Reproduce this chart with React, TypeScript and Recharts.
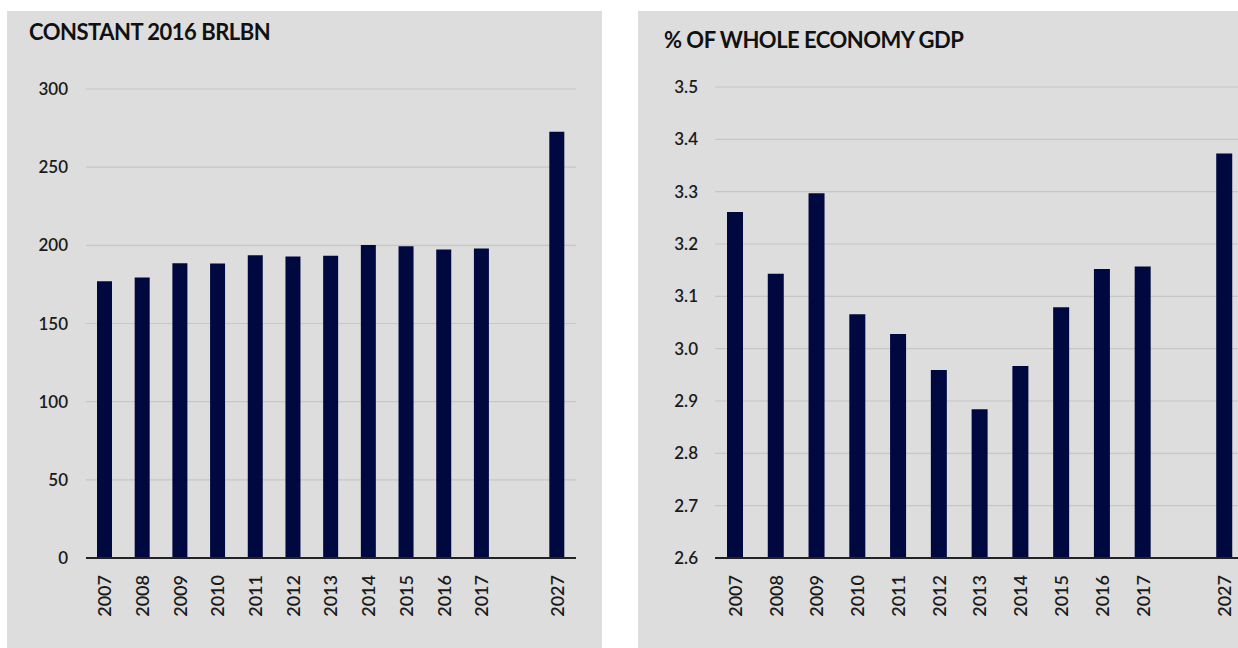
import { BarChart, Bar, XAxis, YAxis, CartesianGrid, ReferenceLine } from 'recharts';

// categories (blank slot between 2017 and 2027)
const years = ['2007', '2008', '2009', '2010', '2011', '2012', '2013', '2014', '2015', '2016', '2017', '', '2027'];

// constant 2016 BRL bn
const spendBrl = [177, 179.5, 188.5, 188.3, 193.6, 192.8, 193.4, 200.2, 199.4, 197.3, 197.9, null, 272.6];

// % of whole economy GDP
const shareGdp = [3.261, 3.143, 3.297, 3.066, 3.028, 2.959, 2.884, 2.967, 3.079, 3.152, 3.157, null, 3.373];

const leftTicks = [0, 50, 100, 150, 200, 250, 300];
const rightTicks = [2.6, 2.7, 2.8, 2.9, 3.0, 3.1, 3.2, 3.3, 3.4, 3.5];

const leftData = years.map((year, i) => ({ year, value: spendBrl[i] }));
const rightData = years.map((year, i) => ({ year, value: shareGdp[i] }));

const FONT = 'Lato, "Open Sans", sans-serif';
const BAR = '#000840';
const BG = '#dddddd';

const YearTick = (props: any) => {
  const { x, y, payload } = props;
  return (
    <g transform={`translate(${x},${y})`}>
      <text
        transform="rotate(-90)"
        textAnchor="end"
        dy="0.36em"
        fontFamily={FONT}
        fontSize={18}
        fontWeight={600}
        fill="#1a1a1a"
      >
        {payload.value}
      </text>
    </g>
  );
};

const titleStyle: React.CSSProperties = {
  position: 'absolute',
  fontFamily: FONT,
  fontWeight: 700,
  fontSize: 22,
  color: '#111',
  letterSpacing: -0.5,
  whiteSpace: 'nowrap',
};

const yTickStyle = { fontFamily: FONT, fontSize: 17, fontWeight: 600, fill: '#1a1a1a' };

export default function App() {
  return (
    <div style={{ position: 'fixed', left: 0, top: 0, width: 1238, height: 648, overflow: 'hidden', background: '#fff' }}>
      {/* left panel */}
      <div style={{ position: 'absolute', left: 7, top: 11, width: 595, height: 637, background: BG }}>
        <div style={{ ...titleStyle, left: 22, top: 7 }}>CONSTANT 2016 BRLBN</div>
        <BarChart
          width={595}
          height={637}
          data={leftData}
          margin={{ top: 78, right: 26, left: 19, bottom: 10 }}
          barCategoryGap={0}
        >
          <CartesianGrid vertical={false} stroke="#c6c6c6" strokeWidth={1.2} />
          <XAxis
            dataKey="year"
            interval={0}
            tick={<YearTick />}
            tickLine={false}
            axisLine={false}
            tickSize={0}
            tickMargin={17}
            height={80}
          />
          <YAxis
            domain={[0, 300]}
            ticks={leftTicks}
            width={60}
            tickLine={false}
            axisLine={false}
            tickSize={0}
            tickMargin={18}
            tick={yTickStyle}
          />
          <ReferenceLine y={0} stroke="#222" strokeWidth={2} />
          <Bar dataKey="value" fill={BAR} barSize={15} isAnimationActive={false} />
        </BarChart>
      </div>

      {/* right panel */}
      <div style={{ position: 'absolute', left: 638, top: 11, width: 640, height: 637, background: BG }}>
        <div style={{ ...titleStyle, left: 26, top: 15 }}>% OF WHOLE ECONOMY GDP</div>
        <BarChart
          width={640}
          height={637}
          data={rightData}
          margin={{ top: 76, right: 33, left: 17, bottom: 10 }}
          barCategoryGap={0}
        >
          <CartesianGrid vertical={false} stroke="#c6c6c6" strokeWidth={1.2} />
          <XAxis
            dataKey="year"
            interval={0}
            tick={<YearTick />}
            tickLine={false}
            axisLine={false}
            tickSize={0}
            tickMargin={17}
            height={80}
          />
          <YAxis
            domain={[2.6, 3.5]}
            ticks={rightTicks}
            width={60}
            allowDataOverflow
            tickLine={false}
            axisLine={false}
            tickSize={0}
            tickMargin={17}
            tickFormatter={(v: number) => v.toFixed(1)}
            tick={yTickStyle}
          />
          <ReferenceLine y={2.6} stroke="#222" strokeWidth={2} />
          <Bar dataKey="value" fill={BAR} barSize={16} isAnimationActive={false} />
        </BarChart>
      </div>
    </div>
  );
}
